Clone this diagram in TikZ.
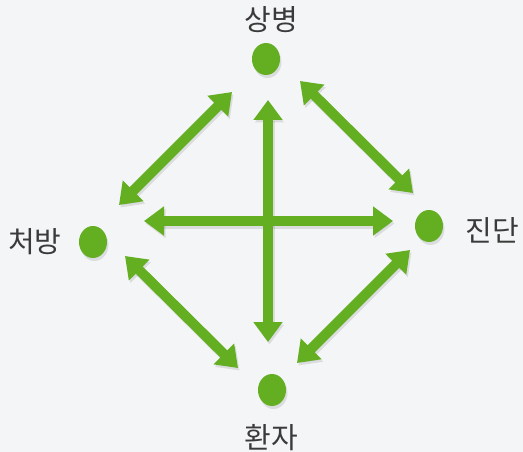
\documentclass[tikz,border=0pt]{standalone}
\usepackage{fontspec}
\newfontfamily\kr{Noto Sans CJK KR}
\usetikzlibrary{arrows.meta}
\definecolor{bg}{HTML}{F4F5F7}
\definecolor{leaf}{HTML}{63AE21}
\definecolor{ink}{HTML}{3A3A3A}
\tikzset{
  dot/.style={ellipse, fill=leaf, minimum width=28pt, minimum height=32pt, inner sep=0pt},
  lbl/.style={text=ink, font=\kr\fontsize{29}{34}\selectfont, inner sep=0pt},
  dbl/.style={draw=leaf, line width=10pt, {Triangle[width=28pt,length=20pt]}-{Triangle[width=28pt,length=20pt]}},
  shd/.style={draw=black, opacity=0.10, line width=10pt, {Triangle[width=28pt,length=20pt]}-{Triangle[width=28pt,length=20pt]}, transform canvas={shift={(1.5pt,-2.5pt)}}},
}
\usetikzlibrary{shapes.geometric}
\begin{document}
\begin{tikzpicture}[x=1pt,y=-1pt]
\fill[bg] (0,0) rectangle (523,452);
\useasboundingbox (0,0) rectangle (523,452);
% dots
\fill[black,opacity=0.10] (267.5,62) ellipse (14pt and 16pt);
\fill[black,opacity=0.10] (94.5,245) ellipse (14pt and 16pt);
\fill[black,opacity=0.10] (430.5,229) ellipse (14pt and 16pt);
\fill[black,opacity=0.10] (273.5,393) ellipse (14pt and 16pt);
\node[dot] (top) at (266,59) {};
\node[dot] (left) at (93,242) {};
\node[dot] (right) at (429,226) {};
\node[dot] (bot) at (272,390) {};
% labels
\node[lbl] (ltop) at (271,20) {상병};
\node[lbl] (lleft) at (35,242) {처방};
\node[lbl] (lright) at (492,230) {진단};
\node[lbl] (lbot) at (271,438) {환자};
% arrow ends
\coordinate (tl1) at (232,92);  \coordinate (tl2) at (119,205);
\coordinate (tr1) at (300,81);  \coordinate (tr2) at (413,193);
\coordinate (h1) at (144,221);  \coordinate (h2) at (393,221);
\coordinate (v1) at (268,100);  \coordinate (v2) at (268,342);
\coordinate (bl1) at (125,256); \coordinate (bl2) at (238,368);
\coordinate (br1) at (410,250); \coordinate (br2) at (297,363);
% shadows
\foreach \a/\b in {tl1/tl2,tr1/tr2,h1/h2,v1/v2,bl1/bl2,br1/br2}
  \path[shd] (\a) -- (\b);
% arrows
\foreach \a/\b in {tl1/tl2,tr1/tr2,h1/h2,v1/v2,bl1/bl2,br1/br2}
  \path[dbl] (\a) -- (\b);
\end{tikzpicture}
\end{document}
